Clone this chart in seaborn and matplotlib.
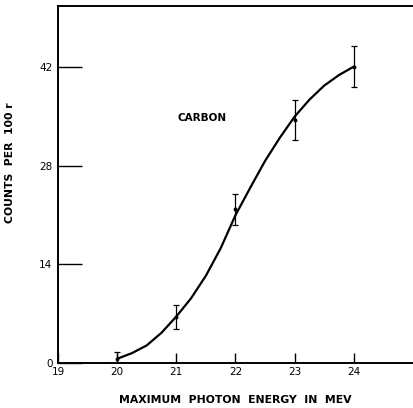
import matplotlib
matplotlib.use("Agg")
import matplotlib.pyplot as plt
import seaborn as sns
import numpy as np
import pandas as pd

# Measured data points
energy = [20, 21, 22, 23, 24]
counts = [0.6, 6.5, 21.8, 34.5, 42.1]
errors = [1.0, 1.7, 2.25, 2.8, 2.9]

# Smooth curve
curve_x = [20.0, 20.25, 20.5, 20.75, 21.0, 21.25, 21.5, 21.75, 22.0,
           22.25, 22.5, 22.75, 23.0, 23.25, 23.5, 23.75, 24.0]
curve_y = [0.6, 1.4, 2.5, 4.3, 6.6, 9.2, 12.4, 16.3, 21.0,
           24.9, 28.7, 32.0, 35.0, 37.4, 39.4, 40.9, 42.1]

xticks = [19, 20, 21, 22, 23, 24]
yticks = [0, 14, 28, 42]

sns.set_style("white")
plt.rcParams['font.family'] = ['DejaVu Sans']

fig = plt.figure(figsize=(4.13, 4.08), dpi=100)
ax = fig.add_axes([0.1404, 0.1103, 0.8596, 0.875])

curve = pd.DataFrame({"x": curve_x, "y": curve_y})
sns.lineplot(data=curve, x="x", y="y", ax=ax, color="black", linewidth=1.6)

ax.errorbar(energy, counts, yerr=errors, fmt="o", color="black",
            markersize=1.8, elinewidth=0.9, capsize=2, capthick=0.9)

ax.text(21.44, 34.8, "CARBON", ha="center", va="center", fontsize=7.5,
        color="black", fontweight="semibold")

ax.set_xlim(19, 25)
ax.set_ylim(0, 50.7)
ax.set_xticks(xticks)
ax.set_yticks(yticks)
ax.set_xticklabels([str(t) for t in xticks])
ax.set_yticklabels([str(t) for t in yticks])

ax.tick_params(axis="x", direction="in", length=7, width=1, pad=3,
               labelsize=7.5, colors="black", top=False, bottom=True)
ax.tick_params(axis="y", direction="in", length=17, width=1, pad=4,
               labelsize=7.5, colors="black", left=True, right=False)

for side in ["left", "bottom", "top"]:
    ax.spines[side].set_visible(True)
    ax.spines[side].set_color("black")
    ax.spines[side].set_linewidth(1.4)
ax.spines["right"].set_visible(False)

ax.set_xlabel("MAXIMUM  PHOTON  ENERGY  IN  MEV", fontsize=7.8, labelpad=13,
              color="black", fontweight="semibold")
ax.set_ylabel("COUNTS  PER  100 r", fontsize=7.8, color="black",
              fontweight="semibold")
ax.yaxis.set_label_coords(-0.122, 0.56)

fig.savefig("out.png", dpi=100)
